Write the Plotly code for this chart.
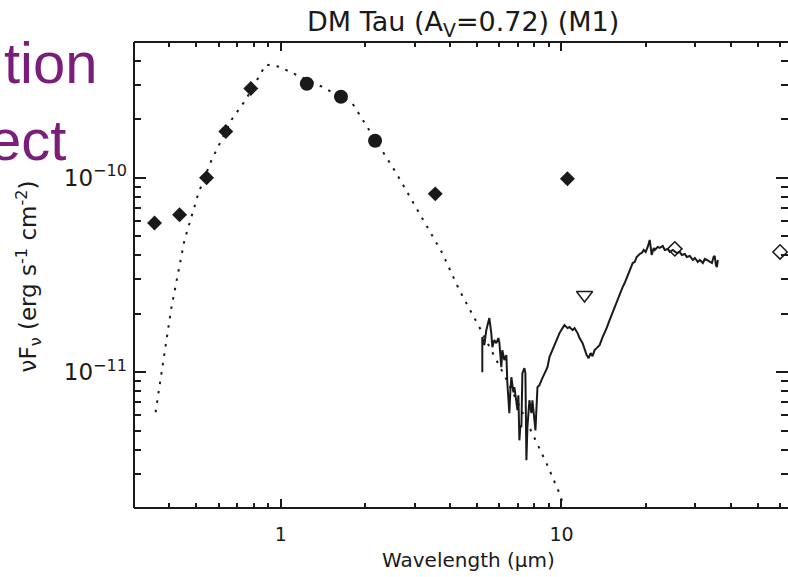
import plotly.graph_objects as go

# ---- data (wavelength in micron, nuFnu in erg s^-1 cm^-2) ----
phot_diamond_wl = [0.355, 0.436, 0.544, 0.637, 0.782, 3.55, 10.5]
phot_diamond_f = [5.86e-11, 6.45e-11, 1.0e-10, 1.73e-10, 2.88e-10, 8.27e-11, 9.9e-11]

phot_circle_wl = [1.238, 1.638, 2.167]
phot_circle_f = [3.05e-10, 2.615e-10, 1.551e-10]

open_diamond_wl = [25.33, 60.06]
open_diamond_f = [4.31e-11, 4.155e-11]

upper_limit_wl = [12.08]
upper_limit_f = [2.494e-11]

photo_wl = [0.358, 0.3758, 0.408, 0.454, 0.5095, 0.567, 0.668, 0.750, 0.834, 0.884,
            0.984, 1.095, 1.401, 1.793, 2.167, 2.575, 3.111, 3.758, 4.323, 5.095,
            6.521, 8.143, 8.84, 9.837, 10.08]
photo_f = [6.22e-12, 9.88e-12, 2.163e-11, 4.79e-11, 8.37e-11, 1.238e-10, 1.991e-10,
           2.523e-10, 3.316e-10, 3.824e-10, 3.734e-10, 3.477e-10, 2.944e-10, 2.435e-10,
           1.570e-10, 1.061e-10, 6.60e-11, 4.107e-11, 2.647e-11, 1.706e-11, 8.57e-12,
           4.31e-12, 3.40e-12, 2.378e-12, 2.138e-12]

irs_wl = [5.223, 5.223, 5.309, 5.397, 5.487, 5.533, 5.623, 5.670, 5.764, 5.860,
          5.957, 6.006, 6.105, 6.156, 6.258, 6.362, 6.414, 6.521, 6.575, 6.629,
          6.740, 6.795, 6.908, 6.965, 7.022, 7.079, 7.138, 7.196, 7.256, 7.377,
          7.437, 7.499, 7.561, 7.686, 7.814, 7.879, 8.009, 8.076, 8.210, 8.346,
          8.485, 8.697, 8.913, 9.061, 9.211, 9.441, 9.676, 9.837, 10.08, 10.25,
          10.51, 10.68, 10.95, 11.13, 11.41, 11.60, 11.89, 12.08, 12.29, 12.49,
          12.70, 12.90, 13.12, 13.34, 13.67, 14.01, 14.24, 14.48, 14.84, 15.21,
          15.46, 15.72, 16.11, 16.51, 16.79, 17.21, 17.50, 17.93, 18.23, 18.53,
          18.99, 19.31, 19.63, 19.95, 20.28, 20.62, 20.96, 21.31, 21.48, 22.02,
          22.39, 22.95, 23.33, 23.91, 24.30, 24.91, 25.74, 26.38, 26.83, 27.50,
          27.95, 28.65, 29.37, 29.85, 30.59, 31.11, 31.89, 32.41, 32.95, 33.78,
          34.34, 34.91, 35.19, 35.48, 35.78, 36.07]
irs_f = [1.00e-11, 1.515e-11, 1.378e-11, 1.646e-11, 1.810e-11, 1.898e-11, 1.589e-11, 1.345e-11, 1.462e-11, 1.411e-11,
         1.497e-11, 1.427e-11, 1.061e-11, 1.298e-11, 1.153e-11, 1.224e-11, 8.78e-12, 6.15e-12, 8.08e-12, 9.42e-12,
         7.88e-12, 8.37e-12, 7.01e-12, 6.37e-12, 7.61e-12, 4.46e-12, 5.33e-12, 5.21e-12, 9.88e-12, 1.049e-11,
         9.88e-12, 3.52e-12, 5.21e-12, 7.17e-12, 6.15e-12, 7.17e-12, 5.66e-12, 5.02e-12, 8.37e-12, 8.57e-12,
         9.10e-12, 9.88e-12, 1.061e-11, 1.195e-11, 1.268e-11, 1.378e-11, 1.497e-11, 1.589e-11, 1.685e-11, 1.747e-11,
         1.685e-11, 1.706e-11, 1.646e-11, 1.685e-11, 1.589e-11, 1.497e-11, 1.411e-11, 1.298e-11, 1.224e-11, 1.181e-11,
         1.253e-11, 1.209e-11, 1.298e-11, 1.330e-11, 1.378e-11, 1.515e-11, 1.589e-11, 1.685e-11, 1.853e-11, 2.038e-11,
         2.163e-11, 2.268e-11, 2.554e-11, 2.742e-11, 2.875e-11, 3.125e-11, 3.355e-11, 3.645e-11, 3.69e-11, 3.916e-11,
         4.058e-11, 4.107e-11, 4.255e-11, 4.155e-11, 4.409e-11, 4.791e-11, 4.01e-11, 4.357e-11, 4.255e-11, 4.409e-11,
         4.357e-11, 4.461e-11, 4.255e-11, 4.306e-11, 4.155e-11, 4.255e-11, 4.107e-11, 4.155e-11, 4.01e-11, 4.058e-11,
         3.916e-11, 3.963e-11, 3.778e-11, 3.869e-11, 3.69e-11, 3.778e-11, 3.645e-11, 3.824e-11, 3.778e-11, 3.69e-11,
         3.645e-11, 3.963e-11, 3.916e-11, 3.56e-11, 3.477e-11, 3.778e-11]

x_tick_vals = [1, 10]
x_tick_text = ["1", "10"]
x_minor_vals = [0.3, 0.4, 0.5, 0.6, 0.7, 0.8, 0.9, 2, 3, 4, 5, 6, 7, 8, 9, 20, 30, 40, 50, 60]
y_tick_vals = [1e-11, 1e-10]
y_tick_text = ["10<sup>\u221211</sup>", "10<sup>\u221210</sup>"]
y_minor_vals = [3e-12, 4e-12, 5e-12, 6e-12, 7e-12, 8e-12, 9e-12,
                2e-11, 3e-11, 4e-11, 5e-11, 6e-11, 7e-11, 8e-11, 9e-11,
                2e-10, 3e-10, 4e-10]

INK = "#1a1a1a"
FONT = "DejaVu Sans"

fig = go.Figure()

fig.add_trace(go.Scatter(x=photo_wl, y=photo_f, mode="lines",
                         line=dict(color=INK, width=2, dash="2.5px,7px"),
                         hoverinfo="skip", showlegend=False))
fig.add_trace(go.Scatter(x=irs_wl, y=irs_f, mode="lines",
                         line=dict(color=INK, width=2),
                         showlegend=False))
fig.add_trace(go.Scatter(x=phot_diamond_wl, y=phot_diamond_f, mode="markers",
                         marker=dict(symbol="diamond", size=11.5, color=INK),
                         showlegend=False))
fig.add_trace(go.Scatter(x=phot_circle_wl, y=phot_circle_f, mode="markers",
                         marker=dict(symbol="circle", size=14, color=INK),
                         showlegend=False))
fig.add_trace(go.Scatter(x=open_diamond_wl, y=open_diamond_f, mode="markers",
                         marker=dict(symbol="diamond-open", size=11,
                                     line=dict(color=INK, width=1.5), color=INK),
                         cliponaxis=False, showlegend=False))
fig.add_trace(go.Scatter(x=upper_limit_wl, y=upper_limit_f, mode="markers",
                         marker=dict(symbol="triangle-down-open", size=14,
                                     line=dict(color=INK, width=1.5), color=INK),
                         showlegend=False))

fig.update_xaxes(type="log", range=[-0.5229, 1.8069],
                 tickmode="array", tickvals=x_tick_vals, ticktext=x_tick_text,
                 ticks="inside", ticklen=9, tickwidth=1.5, tickcolor=INK,
                 minor=dict(tickmode="array", tickvals=x_minor_vals, ticks="inside",
                            ticklen=5, tickwidth=1.5, tickcolor=INK, showgrid=False),
                 showgrid=False, zeroline=False, showline=False, mirror="ticks",
                 ticklabelstandoff=13,
                 tickfont=dict(family=FONT, size=19, color=INK))
fig.update_yaxes(type="log", range=[-11.699, -9.301],
                 tickmode="array", tickvals=y_tick_vals, ticktext=y_tick_text,
                 ticks="inside", ticklen=12, tickwidth=1.5, tickcolor=INK,
                 minor=dict(tickmode="array", tickvals=y_minor_vals, ticks="inside",
                            ticklen=7, tickwidth=1.5, tickcolor=INK, showgrid=False),
                 showgrid=False, zeroline=False, showline=False, mirror="ticks",
                 ticklabelstandoff=6,
                 tickfont=dict(family=FONT, size=23, color=INK))

frame = dict(type="line", xref="paper", yref="paper", line=dict(color=INK, width=2))
fig.update_layout(
    width=788, height=577,
    margin=dict(l=134, r=0, t=42, b=69),
    paper_bgcolor="white", plot_bgcolor="white",
    shapes=[
        dict(frame, x0=0, x1=0, y0=0, y1=1),
        dict(frame, x0=0, x1=1.01, y0=0, y1=0),
        dict(frame, x0=0, x1=1.01, y0=1, y1=1),
    ],
    annotations=[
        dict(text="DM Tau (A<sub>V</sub>=0.72) (M1)", xref="paper", yref="paper",
             x=0.503, y=1.040, xanchor="center", yanchor="middle", showarrow=False,
             font=dict(family=FONT, size=27, color=INK)),
        dict(text="Wavelength (\u03bcm)", xref="paper", yref="paper",
             x=0.511, y=-0.112, xanchor="center", yanchor="middle", showarrow=False,
             font=dict(family=FONT, size=20, color=INK)),
        dict(text="\u03bdF<sub>\u03bd</sub> (erg s<sup>-1</sup> cm<sup>-2</sup>)",
             xref="paper", yref="paper", x=-0.162, y=0.497, textangle=-90,
             xanchor="center", yanchor="middle", showarrow=False,
             font=dict(family=FONT, size=23, color=INK)),
        dict(text="tion", xref="paper", yref="paper", x=-0.2018, y=0.957,
             xanchor="left", yanchor="middle", showarrow=False,
             font=dict(family="Liberation Sans", size=58, color="#7B1E7A")),
        dict(text="ect", xref="paper", yref="paper", x=-0.225, y=0.790,
             xanchor="left", yanchor="middle", showarrow=False,
             font=dict(family="Liberation Sans", size=58, color="#7B1E7A")),
    ],
)

fig.write_html("out.html")
